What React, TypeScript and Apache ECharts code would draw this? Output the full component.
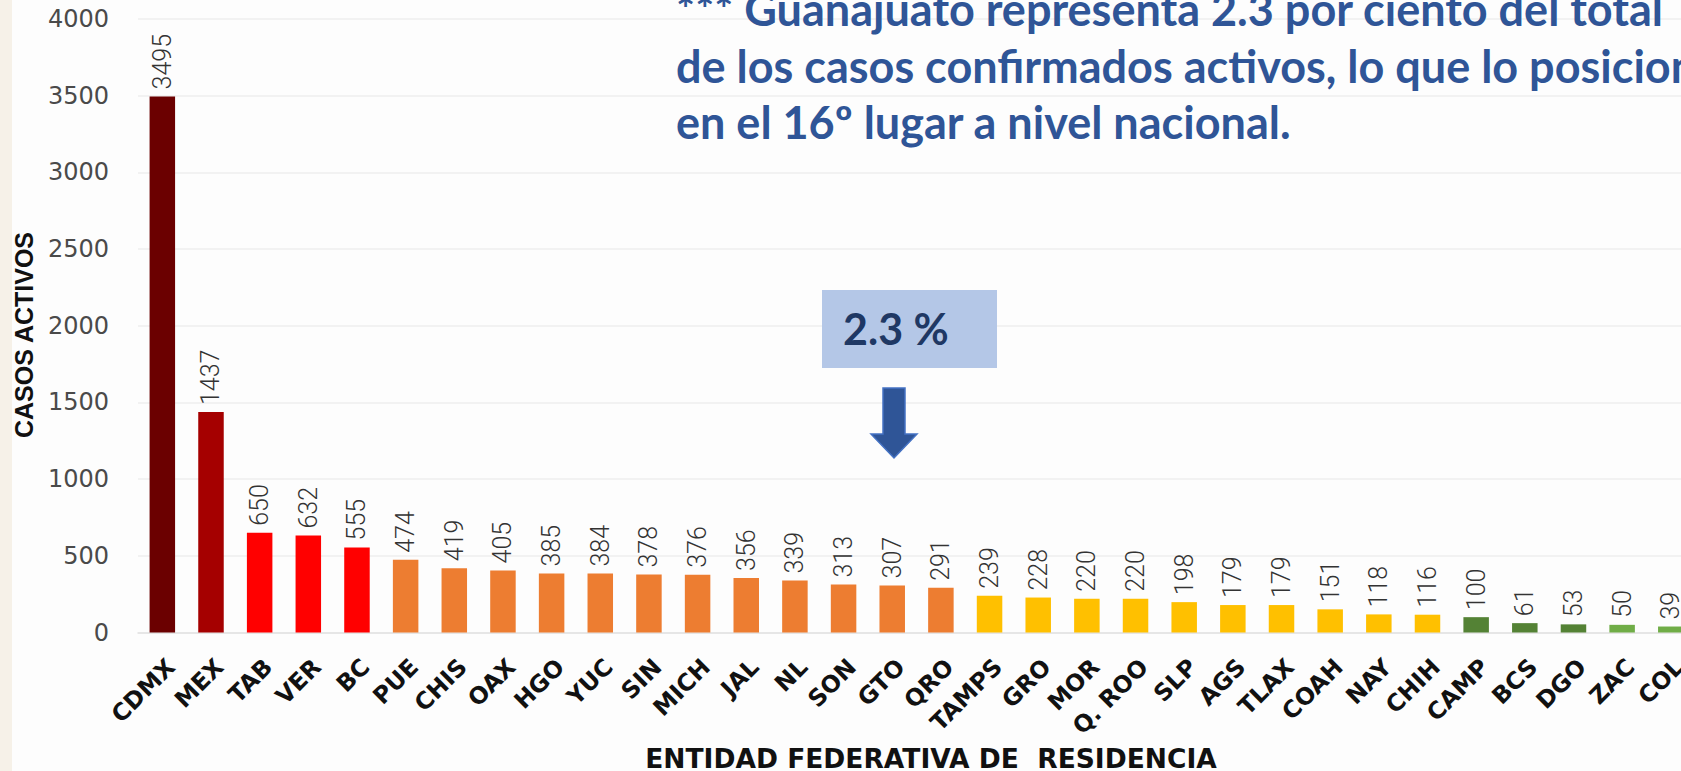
import React, { useEffect, useRef } from "react";
import * as echarts from "echarts";

const categories = [
  "CDMX", "MEX", "TAB", "VER", "BC", "PUE", "CHIS", "OAX", "HGO", "YUC", "SIN",
  "MICH", "JAL", "NL", "SON", "GTO", "QRO", "TAMPS", "GRO", "MOR", "Q. ROO",
  "SLP", "AGS", "TLAX", "COAH", "NAY", "CHIH", "CAMP", "BCS", "DGO", "ZAC", "COL",
];

const activeCases = [
  3495, 1437, 650, 632, 555, 474, 419, 405, 385, 384, 378,
  376, 356, 339, 313, 307, 291, 239, 228, 220, 220,
  198, 179, 179, 151, 118, 116, 100, 61, 53, 50, 39,
];

const yTicks = { min: 0, max: 4000, interval: 500 };

const titleLines = [
  "*** Guanajuato representa 2.3 por ciento del total",
  "de los casos confirmados activos, lo que lo posiciona",
  "en el 16º lugar a nivel nacional.",
];

const calloutText = "2.3 %";
const yAxisTitle = "CASOS ACTIVOS";
const xAxisTitle = "ENTIDAD FEDERATIVA DE  RESIDENCIA";

// colour tier per bar (style, kept separate from values)
const tierOf = (i: number) => {
  if (i === 0) return "#6B0000";
  if (i === 1) return "#A50000";
  if (i <= 4) return "#FF0000";
  if (i <= 16) return "#ED7D31";
  if (i <= 26) return "#FFC000";
  if (i <= 29) return "#548235";
  return "#70AD47";
};

export default function App() {
  const ref = useRef<HTMLDivElement>(null);

  useEffect(() => {
    if (!ref.current) return;
    const chart = echarts.init(ref.current, undefined, { renderer: "svg" });
    const gridLeft = 138;
    const bandW = 48.66;
    chart.setOption({
      animation: false,
      backgroundColor: "#FDFDFD",
      grid: {
        left: gridLeft,
        top: 19,
        width: bandW * categories.length,
        bottom: 138.5,
        containLabel: false,
      },
      xAxis: {
        type: "category",
        data: categories,
        axisLine: { lineStyle: { color: "#E2E2E2", width: 1.5 } },
        axisTick: { show: false },
        axisLabel: {
          interval: 0,
          rotate: 45,
          margin: 22,
          align: "right",
          verticalAlign: "top",
          fontFamily: "DejaVu Sans",
          fontWeight: "bold",
          fontSize: 23.5,
          color: "#111",
        },
      },
      yAxis: {
        type: "value",
        min: yTicks.min,
        max: yTicks.max,
        interval: yTicks.interval,
        axisLine: { show: false },
        axisTick: { show: false },
        splitLine: { lineStyle: { color: "#EEEEEE", width: 1.5 } },
        axisLabel: {
          margin: 29,
          formatter: (v: number) => String(v),
          fontFamily: "DejaVu Sans",
          fontSize: 24,
          color: "#4a4a4a",
        },
      },
      series: [
        {
          type: "bar",
          data: activeCases.map((v, i) => ({ value: v, itemStyle: { color: tierOf(i) } })),
          barWidth: 25.5,
          label: {
            show: true,
            position: "top",
            rotate: 90,
            align: "left",
            verticalAlign: "middle",
            distance: 7,
            fontFamily: "Roboto",
            fontWeight: 300,
            fontSize: 25,
            color: "#333",
          },
        },
      ],
      graphic: [
        { type: "rect", left: 0, top: 0, shape: { width: 12, height: 771 }, style: { fill: "#F6F1E8" }, z: -1 },
        ...titleLines.map((t, i) => ({
          type: "text",
          x: 676,
          y: 9 + i * 56.5,
          style: {
            text: t,
            fill: "#2F5597",
            fontFamily: "Lato",
            fontWeight: "bold",
            fontSize: 45,
            verticalAlign: "middle",
            align: "left",
          },
          z: 10,
        })),
        {
          type: "rect",
          shape: { x: 822, y: 290, width: 175, height: 78 },
          style: { fill: "#B4C7E7" },
          z: 10,
        },
        {
          type: "text",
          x: 843,
          y: 328,
          style: {
            text: calloutText,
            fill: "#1F3864",
            fontFamily: "Lato",
            fontWeight: "bold",
            fontSize: 43,
            verticalAlign: "middle",
            align: "left",
          },
          z: 11,
        },
        {
          type: "polygon",
          shape: {
            points: [
              [883, 388], [905, 388], [905, 434], [917, 434], [894, 458], [871, 434], [883, 434],
            ],
          },
          style: { fill: "#2F5597", stroke: "#4472C4", lineWidth: 1.5 },
          z: 10,
        },
        {
          type: "text",
          x: 24,
          y: 335,
          rotation: Math.PI / 2,
          style: {
            text: yAxisTitle,
            fill: "#111",
            fontFamily: "Liberation Sans",
            fontWeight: "bold",
            fontSize: 25,
            align: "center",
            verticalAlign: "middle",
          },
          z: 10,
        },
        {
          type: "text",
          x: 931,
          y: 758,
          style: {
            text: xAxisTitle,
            fill: "#111",
            fontFamily: "DejaVu Sans",
            fontWeight: "bold",
            fontSize: 26.5,
            align: "center",
            verticalAlign: "middle",
          },
          z: 10,
        },
      ],
    });
    return () => chart.dispose();
  }, []);

  return (
    <div
      style={{
        position: "fixed",
        left: 0,
        top: 0,
        width: 1681,
        height: 771,
        overflow: "hidden",
        background: "#FDFDFD",
      }}
    >
      <div ref={ref} style={{ width: 1740, height: 771 }} />
    </div>
  );
}
